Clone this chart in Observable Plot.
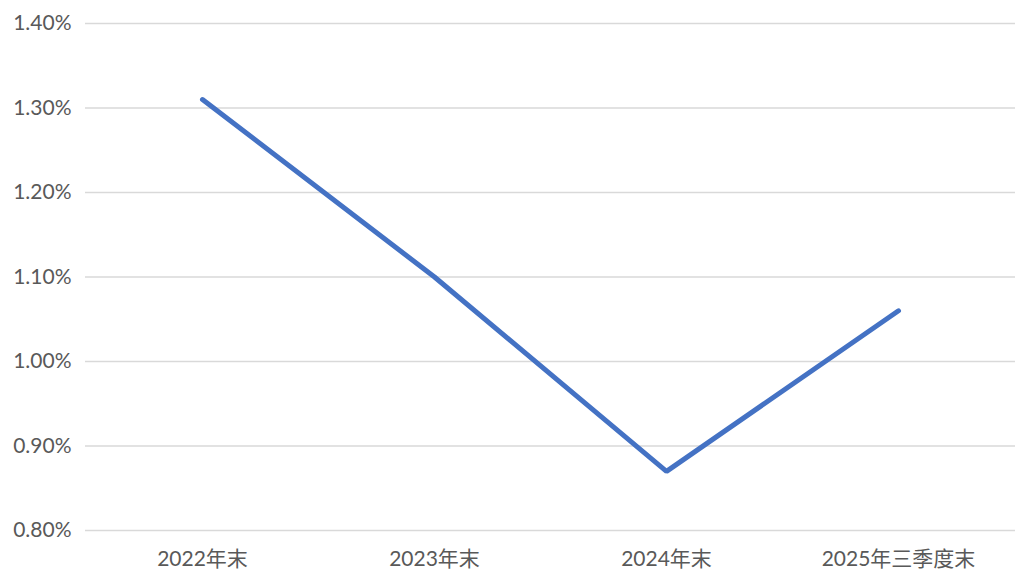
<!DOCTYPE html>
<html>
<head>
<meta charset="utf-8">
<script src="https://cdn.jsdelivr.net/npm/d3@7"></script>
<script src="https://cdn.jsdelivr.net/npm/@observablehq/plot@0.6"></script>
<style>
  html, body { margin: 0; padding: 0; background: #fff; }
  #chart svg { display: block; }
</style>
</head>
<body>
<div id="chart"></div>
<script>
const categories = ["2022年末", "2023年末", "2024年末", "2025年三季度末"];
const values = [1.31, 1.10, 0.87, 1.06];
const yTicks = [0.80, 0.90, 1.00, 1.10, 1.20, 1.30, 1.40];

const data = categories.map((c, i) => ({ period: c, value: values[i] }));

const chart = Plot.plot({
  width: 1036,
  height: 585,
  marginLeft: 85,
  marginRight: 21,
  marginTop: 23,
  marginBottom: 55,
  style: {
    fontFamily: "Lato, 'Noto Sans CJK SC', sans-serif",
    fontSize: "21px",
    color: "#595959",
    background: "#fff"
  },
  x: { type: "point", domain: categories, padding: 0.5, label: null },
  y: { domain: [0.80, 1.40], label: null },
  marks: [
    Plot.ruleY(yTicks, { stroke: "#d9d9d9", strokeWidth: 1.3 }),
    Plot.axisY({ ticks: yTicks, tickSize: 0, tickPadding: 14, tickFormat: d => d.toFixed(2) + "%", fill: "#595959" }),
    Plot.axisX({ tickSize: 0, tickPadding: 21, fill: "#595959" }),
    Plot.line(data, { x: "period", y: "value", stroke: "#4472C4", strokeWidth: 5, strokeLinecap: "round", strokeLinejoin: "miter" })
  ]
});
document.getElementById("chart").appendChild(chart);
</script>
</body>
</html>
